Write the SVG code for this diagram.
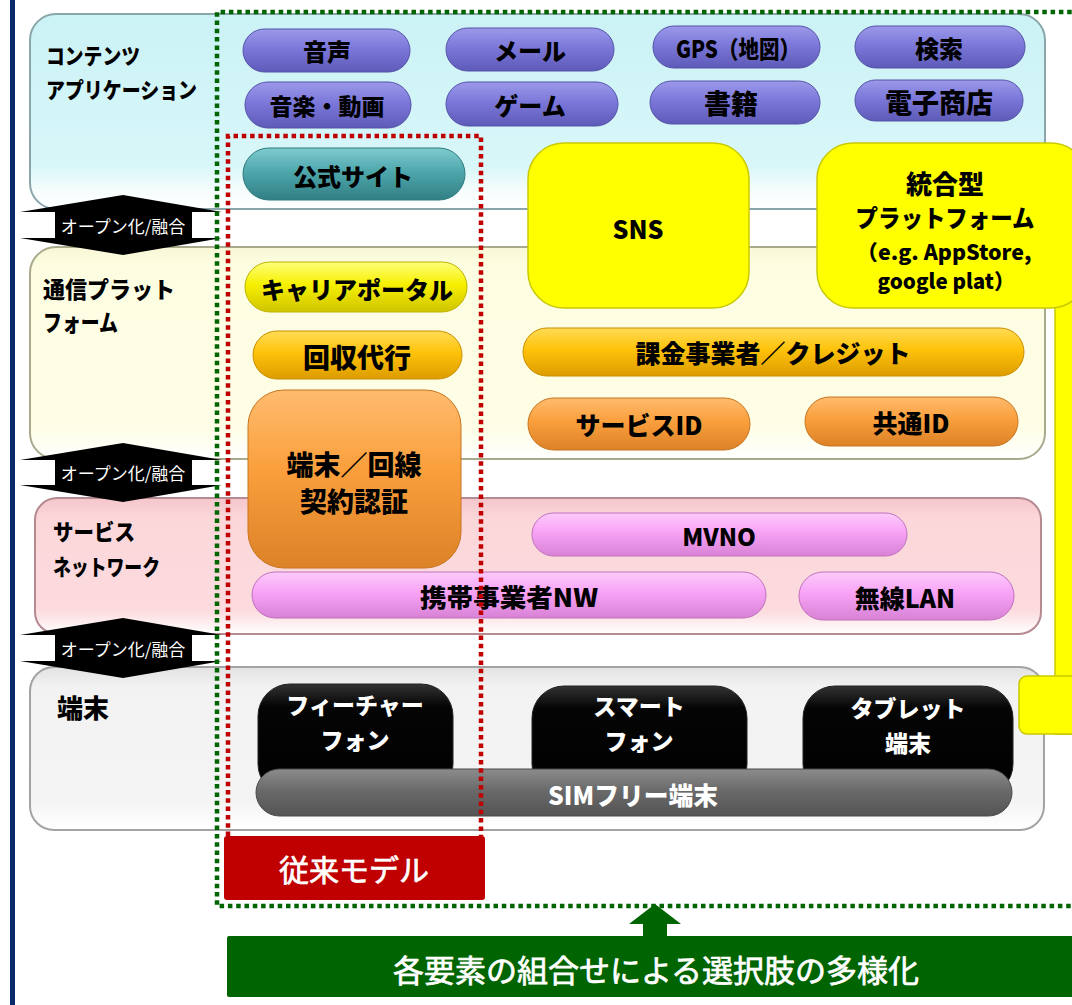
<svg xmlns="http://www.w3.org/2000/svg" width="1072" height="1005" viewBox="0 0 1072 1005">
<defs>
<linearGradient id="gL1" x1="0" y1="0" x2="0" y2="1"><stop offset="0" stop-color="#cbf2f5"/><stop offset="0.78" stop-color="#d8f7f9"/><stop offset="0.9" stop-color="#f5fdfd"/><stop offset="1" stop-color="#ffffff"/></linearGradient>
<linearGradient id="gL2" x1="0" y1="0" x2="0" y2="1"><stop offset="0" stop-color="#f8f8d8"/><stop offset="0.1" stop-color="#fdfde2"/><stop offset="0.85" stop-color="#fefee6"/><stop offset="1" stop-color="#ffffff"/></linearGradient>
<linearGradient id="gL3" x1="0" y1="0" x2="0" y2="1"><stop offset="0" stop-color="#f4c6cb"/><stop offset="0.15" stop-color="#fbd7da"/><stop offset="0.82" stop-color="#fcdadd"/><stop offset="1" stop-color="#ffffff"/></linearGradient>
<linearGradient id="gL4" x1="0" y1="0" x2="0" y2="1"><stop offset="0" stop-color="#e2e2e2"/><stop offset="0.12" stop-color="#f2f2f2"/><stop offset="0.82" stop-color="#f4f4f4"/><stop offset="1" stop-color="#ffffff"/></linearGradient>
<linearGradient id="gPu" x1="0" y1="0" x2="0" y2="1"><stop offset="0" stop-color="#9c99ea"/><stop offset="0.45" stop-color="#7b78da"/><stop offset="1" stop-color="#5d5ab8"/></linearGradient>
<linearGradient id="gTe" x1="0" y1="0" x2="0" y2="1"><stop offset="0" stop-color="#7fcbcf"/><stop offset="0.45" stop-color="#4ea7ac"/><stop offset="1" stop-color="#317f84"/></linearGradient>
<linearGradient id="gYe" x1="0" y1="0" x2="0" y2="1"><stop offset="0" stop-color="#ffff7a"/><stop offset="0.45" stop-color="#f6f000"/><stop offset="1" stop-color="#cfc400"/></linearGradient>
<linearGradient id="gGo" x1="0" y1="0" x2="0" y2="1"><stop offset="0" stop-color="#ffdc55"/><stop offset="0.45" stop-color="#ffc20a"/><stop offset="1" stop-color="#dc9c00"/></linearGradient>
<linearGradient id="gOr" x1="0" y1="0" x2="0" y2="1"><stop offset="0" stop-color="#ffbb6e"/><stop offset="0.45" stop-color="#fa9f3c"/><stop offset="1" stop-color="#dc8228"/></linearGradient>
<linearGradient id="gPi" x1="0" y1="0" x2="0" y2="1"><stop offset="0" stop-color="#fccbfb"/><stop offset="0.45" stop-color="#f8a2f6"/><stop offset="1" stop-color="#d882d6"/></linearGradient>
<linearGradient id="gBk" x1="0" y1="0" x2="0" y2="1"><stop offset="0" stop-color="#333"/><stop offset="0.2" stop-color="#050505"/><stop offset="1" stop-color="#000"/></linearGradient>
<linearGradient id="gGr" x1="0" y1="0" x2="0" y2="1"><stop offset="0" stop-color="#8c8c8c"/><stop offset="0.45" stop-color="#6a6a6a"/><stop offset="1" stop-color="#545454"/></linearGradient>
<style>
.t{font-family:"Noto Sans CJK JP","Noto Sans",sans-serif;font-weight:900;text-anchor:middle;dominant-baseline:central;fill:#000}
.w{fill:#fff}
.lbl{font-weight:900;text-anchor:start}
.med{font-weight:400;stroke:#fff;stroke-width:0.7}
.arl{font-family:"Noto Sans CJK JP","Noto Sans",sans-serif;font-weight:400;font-size:17px;fill:#fff;text-anchor:middle;dominant-baseline:central}
.pu{fill:url(#gPu);stroke:#5552a8;stroke-width:1}
.te{fill:url(#gTe);stroke:#2e7a7e;stroke-width:1}
.ye{fill:url(#gYe);stroke:#bdb300;stroke-width:1}
.go{fill:url(#gGo);stroke:#c98f00;stroke-width:1}
.or{fill:url(#gOr);stroke:#c87520;stroke-width:1}
.pi{fill:url(#gPi);stroke:#c070be;stroke-width:1}
.bk{fill:url(#gBk);stroke:#222;stroke-width:1}
.gr{fill:url(#gGr);stroke:#4a4a4a;stroke-width:1}
.big{fill:#ffff00;stroke:#c9c900;stroke-width:1.5}
.dot{fill:none;stroke-width:4.5;stroke-dasharray:4.5 3.8}
</style>
</defs>
<rect x="0" y="0" width="1072" height="1005" fill="#ffffff"/>
<rect x="10" y="0" width="5" height="1005" fill="#0b2a6b"/>

<g id="layer-contents">
<rect x="30" y="14" width="1015" height="195" rx="26" fill="url(#gL1)" stroke="#8aa6aa" stroke-width="2"/>
<text class="t lbl" x="46" y="54" font-size="22" textLength="94" lengthAdjust="spacingAndGlyphs">コンテンツ</text>
<text class="t lbl" x="46" y="88" font-size="22" textLength="151" lengthAdjust="spacingAndGlyphs">アプリケーション</text>
</g>
<g id="layer-platform">
<rect x="30" y="247" width="1015" height="212" rx="26" fill="url(#gL2)" stroke="#a9a98c" stroke-width="2"/>
<text class="t lbl" x="43" y="288" font-size="23" textLength="132" lengthAdjust="spacingAndGlyphs">通信プラット</text>
<text class="t lbl" x="43" y="321" font-size="23" textLength="75" lengthAdjust="spacingAndGlyphs">フォーム</text>
</g>
<g id="layer-network">
<rect x="35" y="498" width="1006" height="136" rx="22" fill="url(#gL3)" stroke="#b58a90" stroke-width="2"/>
<text class="t lbl" x="53" y="530" font-size="22" textLength="82" lengthAdjust="spacingAndGlyphs">サービス</text>
<text class="t lbl" x="53" y="565" font-size="22" textLength="107" lengthAdjust="spacingAndGlyphs">ネットワーク</text>
</g>
<g id="layer-device">
<rect x="30" y="667" width="1014" height="163" rx="24" fill="url(#gL4)" stroke="#a3a3a3" stroke-width="2"/>
<text class="t" x="83" y="706" font-size="26">端末</text>
</g>

<g id="sns">
<rect class="big" x="528" y="143" width="221" height="165" rx="36"/>
<text class="t" x="638" y="228" font-size="25">SNS</text>
</g>
<g id="integrated-platform">
<rect class="big" x="1055" y="290" width="30" height="444"/>
<rect class="big" x="1019" y="676" width="64" height="58" rx="8"/>
<rect class="big" x="817" y="143" width="270" height="165" rx="36"/>
<text class="t" x="945" y="182" font-size="26">統合型</text>
<text class="t" x="945" y="216" font-size="24" textLength="179" lengthAdjust="spacingAndGlyphs">プラットフォーム</text>
<text class="t" x="944" y="251" font-size="21" textLength="175" lengthAdjust="spacingAndGlyphs">（e.g. AppStore,</text>
<text class="t" x="946" y="280" font-size="21" textLength="137" lengthAdjust="spacingAndGlyphs">google plat）</text>
</g>

<g id="voice"><rect class="pu" x="243" y="29" width="167" height="43" rx="21.5"/><text class="t" x="327" y="50" font-size="24">音声</text></g>
<g id="mail"><rect class="pu" x="446" y="28" width="168" height="43" rx="21.5"/><text class="t" x="530" y="49" font-size="24">メール</text></g>
<g id="gps"><rect class="pu" x="653" y="26" width="167" height="42" rx="21"/><text class="t" x="738" y="47" font-size="24" textLength="124" lengthAdjust="spacingAndGlyphs">GPS（地図）</text></g>
<g id="search"><rect class="pu" x="855" y="26" width="170" height="42" rx="21"/><text class="t" x="939" y="47" font-size="24">検索</text></g>
<g id="music-video"><rect class="pu" x="245" y="82" width="166" height="46" rx="23"/><text class="t" x="327" y="105" font-size="23">音楽・動画</text></g>
<g id="game"><rect class="pu" x="446" y="82" width="172" height="44" rx="22"/><text class="t" x="530" y="104" font-size="24">ゲーム</text></g>
<g id="books"><rect class="pu" x="650" y="81" width="170" height="43" rx="21.5"/><text class="t" x="731" y="102" font-size="27">書籍</text></g>
<g id="ecommerce"><rect class="pu" x="855" y="80" width="168" height="41" rx="20.5"/><text class="t" x="939" y="101" font-size="27">電子商店</text></g>
<g id="official-site"><rect class="te" x="243" y="148" width="222" height="52" rx="26"/><text class="t" x="353" y="175" font-size="24">公式サイト</text></g>

<g id="carrier-portal"><rect class="ye" x="245" y="262" width="222" height="50" rx="25"/><text class="t" x="357" y="288" font-size="24">キャリアポータル</text></g>
<g id="collection"><rect class="go" x="253" y="331" width="209" height="48" rx="24"/><text class="t" x="357" y="356" font-size="27">回収代行</text></g>
<g id="billing"><rect class="go" x="523" y="328" width="501" height="48" rx="24"/><text class="t" x="773" y="352" font-size="25">課金事業者／クレジット</text></g>
<g id="service-id"><rect class="or" x="528" y="398" width="222" height="52" rx="26"/><text class="t" x="639" y="424" font-size="25">サービスID</text></g>
<g id="common-id"><rect class="or" x="805" y="397" width="213" height="49" rx="24.5"/><text class="t" x="911" y="422" font-size="25">共通ID</text></g>
<g id="contract-auth"><rect class="or" x="248" y="390" width="213" height="178" rx="36"/><text class="t" x="354" y="463" font-size="27">端末／回線</text><text class="t" x="354" y="500" font-size="27">契約認証</text></g>

<g id="mvno"><rect class="pi" x="532" y="513" width="375" height="43" rx="21.5"/><text class="t" x="719" y="535" font-size="24">MVNO</text></g>
<g id="carrier-nw"><rect class="pi" x="252" y="572" width="514" height="46" rx="23"/><text class="t" x="509" y="596" font-size="25" textLength="178" lengthAdjust="spacingAndGlyphs">携帯事業者NW</text></g>
<g id="wlan"><rect class="pi" x="799" y="572" width="215" height="48" rx="24"/><text class="t" x="905" y="597" font-size="25">無線LAN</text></g>

<g id="feature-phone"><rect class="bk" x="258" y="684" width="195" height="112" rx="32"/><text class="t w" x="355" y="704" font-size="23">フィーチャー</text><text class="t w" x="355" y="739" font-size="23">フォン</text></g>
<g id="smartphone"><rect class="bk" x="532" y="686" width="215" height="110" rx="32"/><text class="t w" x="639" y="705" font-size="23">スマート</text><text class="t w" x="639" y="740" font-size="23">フォン</text></g>
<g id="tablet"><rect class="bk" x="803" y="686" width="210" height="110" rx="32"/><text class="t w" x="908" y="707" font-size="23">タブレット</text><text class="t w" x="908" y="742" font-size="23">端末</text></g>
<g id="sim-free"><rect class="gr" x="256" y="769" width="756" height="47" rx="23.5"/><text class="t w" x="633" y="794" font-size="25" textLength="170" lengthAdjust="spacingAndGlyphs">SIMフリー端末</text></g>

<g id="connectors">
<polygon points="123,195 222,212 192,212 192,238 222,238 123,255 20,238 55,238 55,212 20,212" fill="#000"/>
<text class="arl" x="123" y="225">オープン化/融合</text>
<polygon points="123,443 222,460 192,460 192,485 222,485 123,502 20,485 55,485 55,460 20,460" fill="#000"/>
<text class="arl" x="123" y="472">オープン化/融合</text>
<polygon points="123,618 222,635 192,635 192,661 222,661 123,678 20,661 55,661 55,635 20,635" fill="#000"/>
<text class="arl" x="123" y="648">オープン化/融合</text>
<polygon points="655,904 681,924 667,924 667,938 643,938 643,924 629,924" fill="#006400"/>
</g>

<g id="new-model-outline">
<path class="dot" d="M1080,12 H217 V906 H1080" stroke="#006400"/>
</g>
<g id="legacy-model-outline">
<path class="dot" d="M228,836 V136 H481 V836" stroke="#c00000"/>
</g>

<g id="legacy-model">
<rect x="224" y="836" width="261" height="64" rx="3" fill="#c00000"/>
<text class="t w med" x="354" y="868" font-size="30">従来モデル</text>
</g>
<g id="diversification">
<rect x="227" y="936" width="850" height="61" rx="2" fill="#006400"/>
<text class="t w med" x="656" y="968" font-size="31">各要素の組合せによる選択肢の多様化</text>
</g>
</svg>
